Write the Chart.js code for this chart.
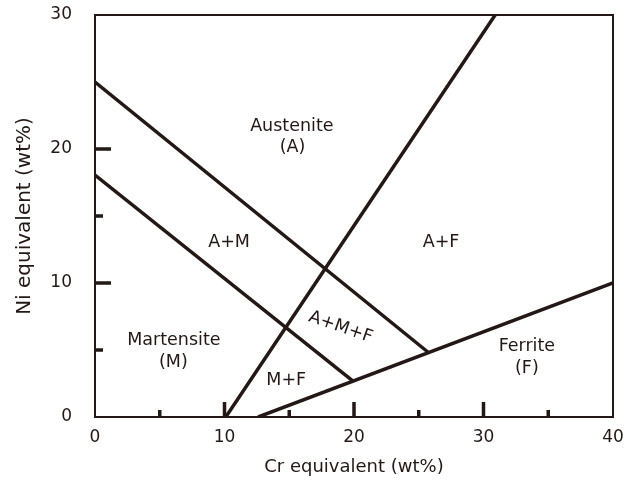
<!DOCTYPE html>
<html>
<head>
<meta charset="utf-8">
<script src="https://cdn.jsdelivr.net/npm/chart.js@4/dist/chart.umd.min.js"></script>
<style>
  html, body { margin: 0; padding: 0; background: #ffffff; }
  canvas { display: block; }
</style>
</head>
<body>
<canvas id="c" width="633" height="482"></canvas>
<script>
// Phase boundaries of the constitution diagram (Cr equivalent, Ni equivalent)
const austeniteMartensiteX = [0, 25.7];
const austeniteMartensiteY = [25, 4.85];
const martensiteLowerX = [0, 19.9];
const martensiteLowerY = [18.05, 2.7];
const ferriteOnsetX = [10.1, 30.9];
const ferriteOnsetY = [0, 30];
const ferriteLineX = [12.6, 40];
const ferriteLineY = [0, 10];

// Axis ranges and tick marks
const xRange = [0, 40];
const yRange = [0, 30];
const xLabelStep = 10;
const yLabelStep = 10;
const xMajorMarks = [10, 20, 30];
const xMinorMarks = [5, 15, 25, 35];
const yMajorMarks = [10, 20];
const yMinorMarks = [5, 15];

// Region labels: text, x, y (baseline), rotation in degrees
const regionText = ['Austenite', '(A)', 'A+M', 'A+F', 'Martensite', '(M)', 'A+M+F', 'M+F', 'Ferrite', '(F)'];
const regionX    = [15.2, 15.25, 10.35, 26.72, 6.09, 6.05, 18.97, 14.77, 33.35, 33.35];
const regionY    = [21.37, 19.8, 12.66, 12.66, 5.37, 3.75, 6.69, 2.39, 4.95, 3.26];
const regionRot  = [0, 0, 0, 0, 0, 0, 19, 0, 0, 0];

const INK = '#231815';
const FONT = 'DejaVu Sans';

function pairs(xs, ys) { return xs.map((x, i) => ({ x: x, y: ys[i] })); }

const boundaries = [
  pairs(austeniteMartensiteX, austeniteMartensiteY),
  pairs(martensiteLowerX, martensiteLowerY),
  pairs(ferriteOnsetX, ferriteOnsetY),
  pairs(ferriteLineX, ferriteLineY)
];

const frameAndLabels = {
  id: 'frameAndLabels',
  afterDatasetsDraw(chart) {
    const { ctx, chartArea: a, scales: { x, y } } = chart;
    ctx.save();
    // frame
    ctx.strokeStyle = INK;
    ctx.lineWidth = 2;
    ctx.strokeRect(a.left, a.top, a.right - a.left, a.bottom - a.top);
    // inward tick marks
    ctx.fillStyle = INK;
    const tw = 3.5;
    xMajorMarks.forEach(v => { const px = x.getPixelForValue(v); ctx.fillRect(px - tw / 2, a.bottom - 15, tw, 15); });
    xMinorMarks.forEach(v => { const px = x.getPixelForValue(v); ctx.fillRect(px - tw / 2, a.bottom - 7, tw, 7); });
    yMajorMarks.forEach(v => { const py = y.getPixelForValue(v); ctx.fillRect(a.left, py - tw / 2, 16, tw); });
    yMinorMarks.forEach(v => { const py = y.getPixelForValue(v); ctx.fillRect(a.left, py - tw / 2, 8, tw); });
    // region names
    ctx.font = '17.5px "' + FONT + '"';
    ctx.textAlign = 'center';
    regionText.forEach((t, i) => {
      const px = x.getPixelForValue(regionX[i]);
      const py = y.getPixelForValue(regionY[i]);
      ctx.save();
      ctx.translate(px, py);
      if (regionRot[i]) {
        ctx.rotate(regionRot[i] * Math.PI / 180);
        ctx.textBaseline = 'middle';
      } else {
        ctx.textBaseline = 'alphabetic';
      }
      ctx.fillText(t, 0, 0);
      ctx.restore();
    });
    ctx.restore();
  }
};

new Chart(document.getElementById('c'), {
  type: 'scatter',
  data: {
    datasets: boundaries.map(d => ({
      data: d,
      showLine: true,
      borderColor: INK,
      borderWidth: 3.5,
      borderCapStyle: 'butt',
      pointRadius: 0,
      fill: false
    }))
  },
  options: {
    responsive: false,
    animation: false,
    layout: { padding: { top: 15, right: 20, left: 0, bottom: 0 } },
    plugins: { legend: { display: false }, tooltip: { enabled: false } },
    scales: {
      x: {
        type: 'linear', min: xRange[0], max: xRange[1],
        grid: { display: false, drawTicks: false },
        border: { display: false },
        ticks: { stepSize: xLabelStep, padding: 10, color: INK, font: { family: FONT, size: 17 } },
        title: { display: true, text: 'Cr equivalent (wt%)', color: INK, font: { family: FONT, size: 18 }, padding: { top: 0, bottom: 4 } },
        afterFit(s) { s.height = 65; s.paddingLeft = 0; s.paddingRight = 0; }
      },
      y: {
        type: 'linear', min: yRange[0], max: yRange[1],
        grid: { display: false, drawTicks: false },
        border: { display: false },
        ticks: { stepSize: yLabelStep, padding: 23, color: INK, font: { family: FONT, size: 17 } },
        title: { display: true, text: 'Ni equivalent (wt%)', color: INK, font: { family: FONT, size: 20 }, padding: { top: 13, bottom: 0 } },
        afterFit(s) { s.width = 95; s.paddingTop = 0; s.paddingBottom = 0; }
      }
    }
  },
  plugins: [frameAndLabels]
});
</script>
</body>
</html>
